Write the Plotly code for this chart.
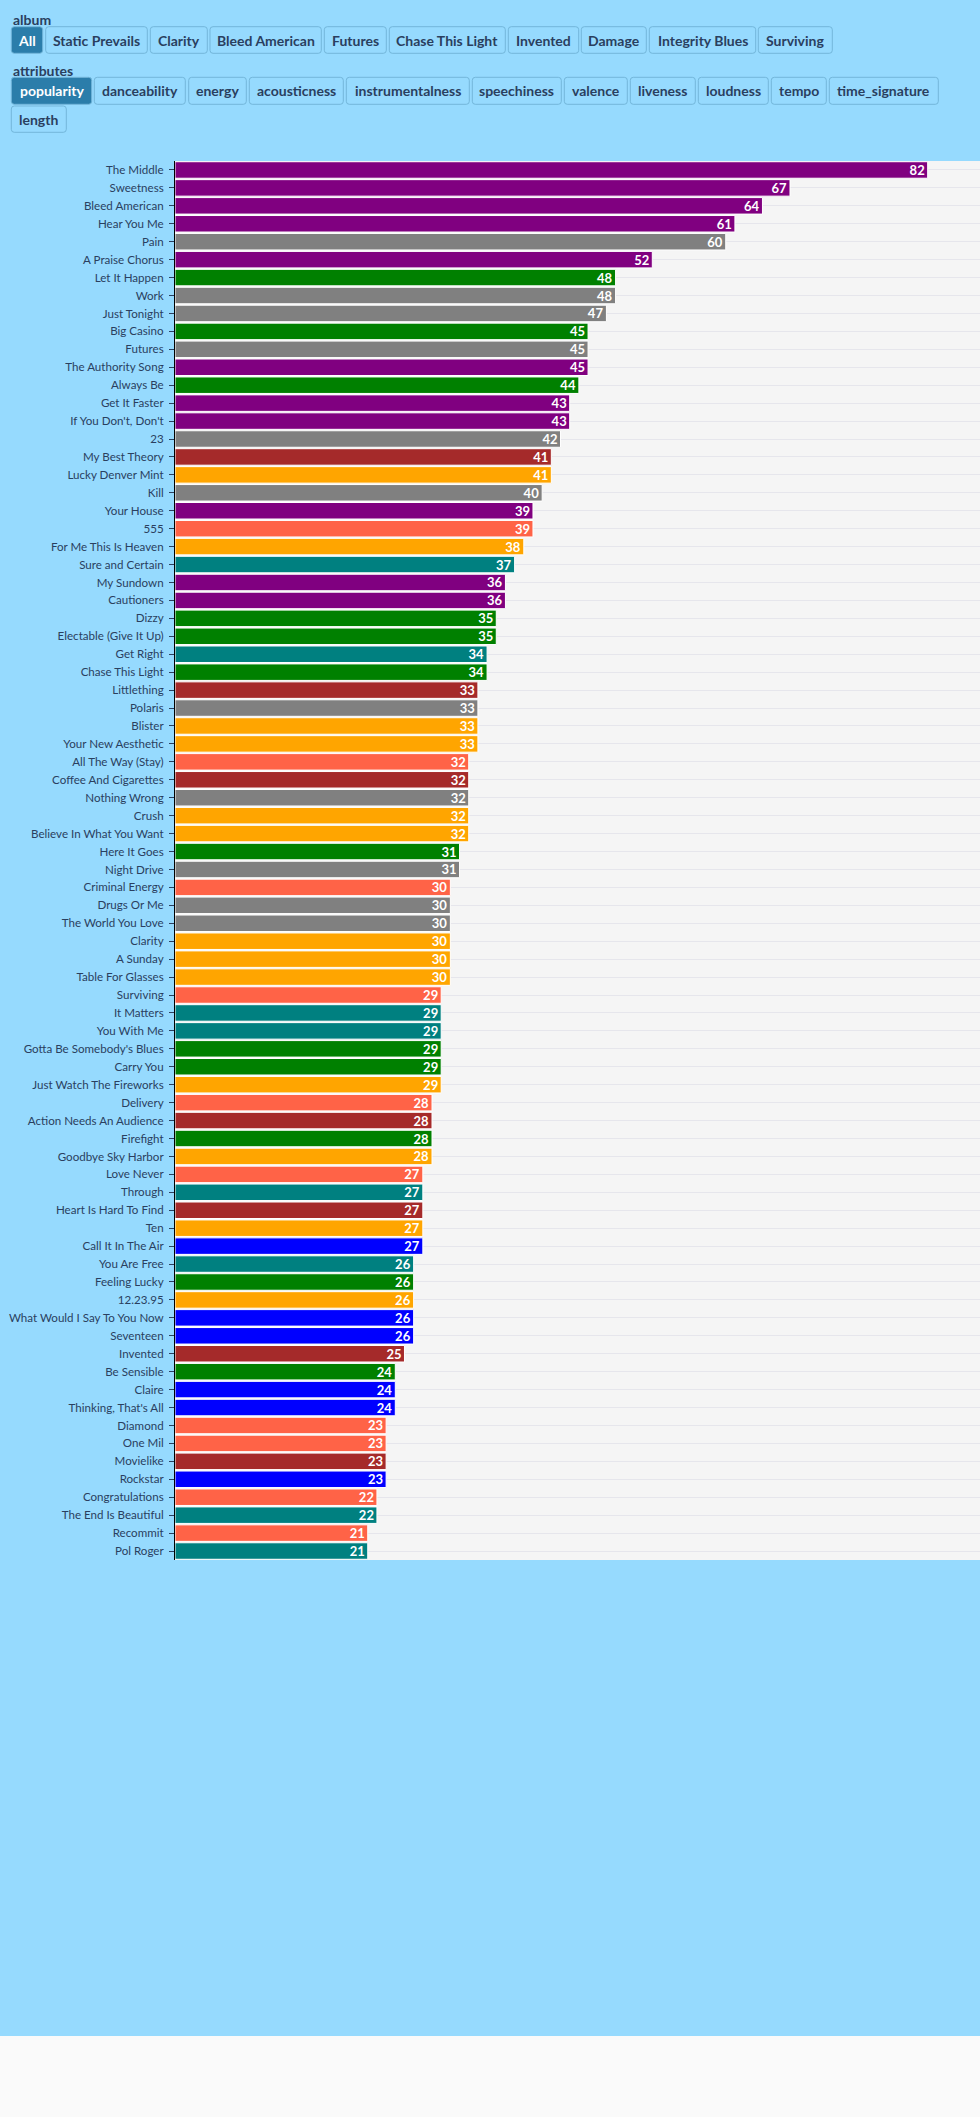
import plotly.graph_objects as go

# ---------------- data ----------------
songs = [
    "The Middle", "Sweetness", "Bleed American", "Hear You Me", "Pain", "A Praise Chorus",
    "Let It Happen", "Work", "Just Tonight", "Big Casino", "Futures", "The Authority Song",
    "Always Be", "Get It Faster", "If You Don't, Don't", "23", "My Best Theory",
    "Lucky Denver Mint", "Kill", "Your House", "555", "For Me This Is Heaven",
    "Sure and Certain", "My Sundown", "Cautioners", "Dizzy", "Electable (Give It Up)",
    "Get Right", "Chase This Light", "Littlething", "Polaris", "Blister", "Your New Aesthetic",
    "All The Way (Stay)", "Coffee And Cigarettes", "Nothing Wrong", "Crush",
    "Believe In What You Want", "Here It Goes", "Night Drive", "Criminal Energy", "Drugs Or Me",
    "The World You Love", "Clarity", "A Sunday", "Table For Glasses", "Surviving", "It Matters",
    "You With Me", "Gotta Be Somebody's Blues", "Carry You", "Just Watch The Fireworks",
    "Delivery", "Action Needs An Audience", "Firefight", "Goodbye Sky Harbor", "Love Never",
    "Through", "Heart Is Hard To Find", "Ten", "Call It In The Air", "You Are Free",
    "Feeling Lucky", "12.23.95", "What Would I Say To You Now", "Seventeen", "Invented",
    "Be Sensible", "Claire", "Thinking, That's All", "Diamond", "One Mil", "Movielike",
    "Rockstar", "Congratulations", "The End Is Beautiful", "Recommit", "Pol Roger",
]

popularity = [
    82, 67, 64, 61, 60, 52,
    48, 48, 47, 45, 45, 45,
    44, 43, 43, 42, 41,
    41, 40, 39, 39, 38,
    37, 36, 36, 35, 35,
    34, 34, 33, 33, 33, 33,
    32, 32, 32, 32,
    32, 31, 31, 30, 30,
    30, 30, 30, 30, 29, 29,
    29, 29, 29, 29,
    28, 28, 28, 28, 27,
    27, 27, 27, 27, 26,
    26, 26, 26, 26, 25,
    24, 24, 24, 23, 23, 23,
    23, 22, 22, 21, 21,
]

song_albums = [
    "Bleed American", "Bleed American", "Bleed American", "Bleed American", "Futures", "Bleed American",
    "Chase This Light", "Futures", "Futures", "Chase This Light", "Futures", "Bleed American",
    "Chase This Light", "Bleed American", "Bleed American", "Futures", "Invented",
    "Clarity", "Futures", "Bleed American", "Surviving", "Clarity",
    "Integrity Blues", "Bleed American", "Bleed American", "Chase This Light", "Chase This Light",
    "Integrity Blues", "Chase This Light", "Invented", "Futures", "Clarity", "Clarity",
    "Surviving", "Invented", "Futures", "Clarity",
    "Clarity", "Chase This Light", "Futures", "Surviving", "Futures",
    "Futures", "Clarity", "Clarity", "Clarity", "Surviving", "Integrity Blues",
    "Integrity Blues", "Chase This Light", "Chase This Light", "Clarity",
    "Surviving", "Invented", "Chase This Light", "Clarity", "Surviving",
    "Integrity Blues", "Invented", "Clarity", "Static Prevails", "Integrity Blues",
    "Chase This Light", "Clarity", "Static Prevails", "Static Prevails", "Invented",
    "Chase This Light", "Static Prevails", "Static Prevails", "Surviving", "Surviving", "Invented",
    "Static Prevails", "Surviving", "Integrity Blues", "Surviving", "Integrity Blues",
]

album_buttons = ["All", "Static Prevails", "Clarity", "Bleed American", "Futures",
                 "Chase This Light", "Invented", "Damage", "Integrity Blues", "Surviving"]
attribute_buttons = ["popularity", "danceability", "energy", "acousticness", "instrumentalness",
                     "speechiness", "valence", "liveness", "loudness", "tempo", "time_signature",
                     "length"]

# ---------------- style ----------------
album_colors = {
    "Bleed American": "#800080", "Futures": "#808080", "Chase This Light": "#008000",
    "Invented": "#A52A2A", "Clarity": "#FFA500", "Surviving": "#FF6347",
    "Integrity Blues": "#008080", "Static Prevails": "#0000FF", "Damage": "#FFD700",
}
PAPER = "#96DAFE"
TEXT = "#2a3f5f"
FONT = "Lato, 'Source Sans Pro', sans-serif"

FIG_W, FIG_H = 980, 2036
L, T, B_PX = 175, 161, 1560
W = FIG_W - L
H = B_PX - T


def px(x):
    return (x - L) / W


def py(y):
    return (B_PX - y) / H


def rrect(x0, y0, x1, y1, r=3):
    pts = [
        ("M", [(x0 + r, y0)]), ("L", [(x1 - r, y0)]), ("Q", [(x1, y0), (x1, y0 + r)]),
        ("L", [(x1, y1 - r)]), ("Q", [(x1, y1), (x1 - r, y1)]), ("L", [(x0 + r, y1)]),
        ("Q", [(x0, y1), (x0, y1 - r)]), ("L", [(x0, y0 + r)]), ("Q", [(x0, y0), (x0 + r, y0)]),
    ]
    s = ""
    for cmd, ps in pts:
        s += cmd + " " + " ".join(f"{px(a):.6f},{py(b):.6f}" for a, b in ps) + " "
    return s + "Z"


bar_colors = [album_colors[a] for a in song_albums]

fig = go.Figure(
    go.Bar(
        x=popularity,
        y=songs,
        orientation="h",
        marker=dict(color=bar_colors, line=dict(color="white", width=1)),
        text=popularity,
        textposition="inside",
        insidetextanchor="end",
        textangle=0,
        textfont=dict(color="white", size=13, family=FONT, weight="bold"),
        constraintext="none",
        hovertemplate="%{y}: %{x}<extra></extra>",
    )
)

# button rows (pixel layout)
row1 = (26.7, 53.3)
row2 = (77.3, 104.3)
row3 = (106.0, 132.3)
album_x = [(11.3, 42.7), (45.7, 147.3), (150.3, 207.3), (210.0, 321.3), (324.3, 386.3),
           (389.3, 505.3), (508.3, 578.7), (581.3, 646.3), (649.3, 755.7), (758.3, 832.3)]
attr_x = [(11.3, 91.7), (94.3, 185.3), (188.7, 246.3), (249.3, 343.3), (346.3, 469.3),
          (472.3, 561.3), (564.3, 627.3), (630.3, 695.3), (698.3, 768.3), (771.3, 826.3),
          (829.3, 938.3), (11.3, 66.3)]

shapes = []
annotations = []
ACTIVE_BG = "#2B7DAA"
BORDER = "#73B6DA"


def add_button(label, xs, ys, active):
    x0, x1 = xs
    y0, y1 = ys
    shapes.append(dict(type="path", xref="paper", yref="paper", path=rrect(x0, y0, x1, y1),
                       fillcolor=ACTIVE_BG if active else PAPER,
                       line=dict(color=BORDER, width=1), layer="above"))
    annotations.append(dict(xref="paper", yref="paper", x=px((x0 + x1) / 2), y=py((y0 + y1) / 2),
                            xanchor="center", yanchor="middle", showarrow=False, text=label,
                            font=dict(family=FONT, size=14, weight="bold",
                                      color="white" if active else TEXT)))


for i, lab in enumerate(album_buttons):
    add_button(lab, album_x[i], row1, i == 0)
for i, lab in enumerate(attribute_buttons):
    add_button(lab, attr_x[i], row3 if i == len(attribute_buttons) - 1 else row2, i == 0)

annotations.append(dict(xref="paper", yref="paper", x=px(11), y=py(19.5), xanchor="left",
                        yanchor="middle", showarrow=False, text="album",
                        font=dict(family=FONT, size=14, weight="bold", color=TEXT)))
annotations.append(dict(xref="paper", yref="paper", x=px(11), y=py(70.5), xanchor="left",
                        yanchor="middle", showarrow=False, text="attributes",
                        font=dict(family=FONT, size=14, weight="bold", color=TEXT)))

fig.update_layout(
    width=FIG_W,
    height=FIG_H,
    margin=dict(l=L, r=0, t=T, b=FIG_H - B_PX, pad=0),
    paper_bgcolor=PAPER,
    plot_bgcolor="#F5F5F5",
    font=dict(family=FONT, size=12, color=TEXT),
    bargap=0.08,
    showlegend=False,
    shapes=shapes,
    annotations=annotations,
    uniformtext=dict(minsize=13, mode="show"),
    xaxis=dict(range=[0, 87.7], showgrid=False, zeroline=False, showticklabels=False,
               showline=False, fixedrange=True),
    yaxis=dict(autorange="reversed", showgrid=True, gridcolor="#E6E6EC", gridwidth=1,
               showline=True, linecolor="black", linewidth=1, ticks="outside", ticklen=5,
               tickcolor=TEXT, tickfont=dict(family=FONT, size=11.6, color=TEXT),
               ticklabelstandoff=3, zeroline=False),
)

fig.write_html("out.html", config={"displayModeBar": False},
               post_script="document.body.style.background='#FAFAFA';document.body.style.margin='0';")
